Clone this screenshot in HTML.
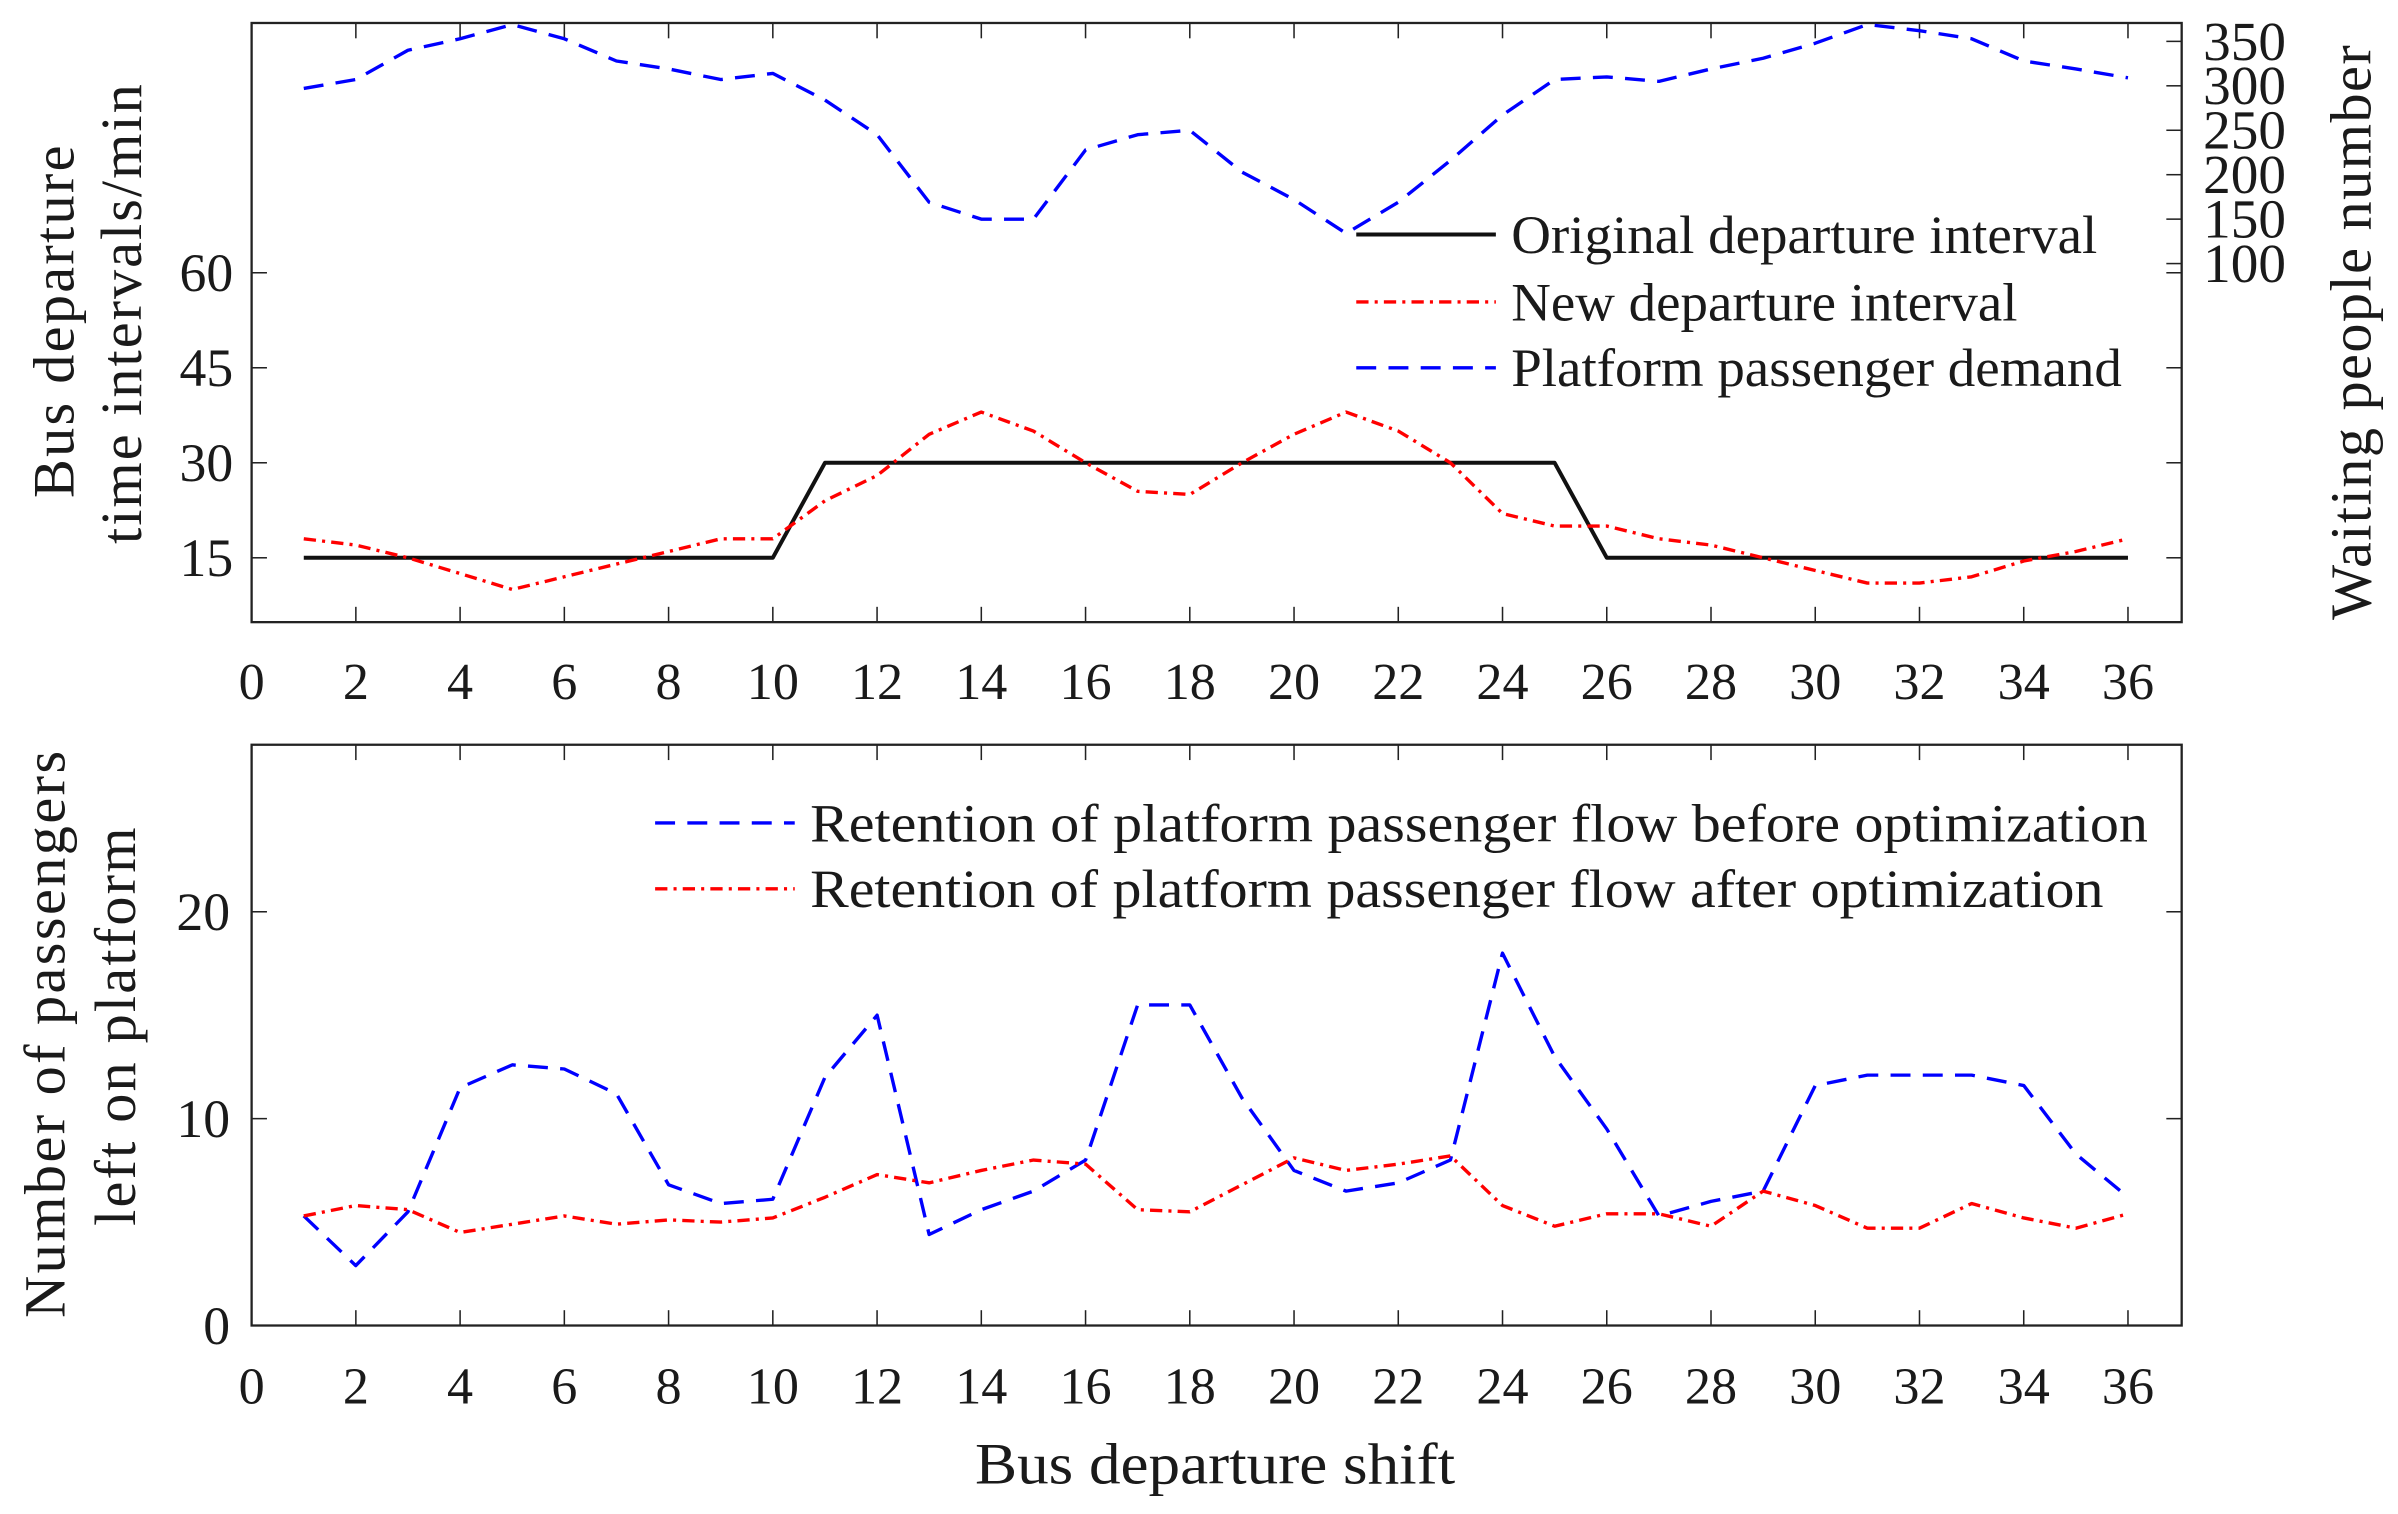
<!DOCTYPE html>
<html><head><meta charset="utf-8"><style>
html,body{margin:0;padding:0;background:#fff;}
svg{display:block;}
text{font-family:"Liberation Serif",serif;fill:#1a1a1a;}
</style></head><body>
<svg id="chart" width="2398" height="1514" viewBox="0 0 1563 988" preserveAspectRatio="none" xmlns="http://www.w3.org/2000/svg">
<g id="top"></g>
<g id="bot"></g>
</svg>
<script>
const shifts = Array.from({length:36},(_,i)=>i+1);
const xTicks = [0,2,4,6,8,10,12,14,16,18,20,22,24,26,28,30,32,34,36];
const leftTicks = [15,30,45,60];
const rightTicks = [100,150,200,250,300,350];
const bottomTicks = [0,10,20];
const originalInterval = [15,15,15,15,15,15,15,15,15,15,30,30,30,30,30,30,30,30,30,30,30,30,30,30,30,15,15,15,15,15,15,15,15,15,15,15];
const newInterval = [18,17,15,12.5,10,12,14,16,18,18,24,28,34.5,38,35,30,25.5,25,30,34.5,38,35,30,22,20,20,18,17,15,13,11,11,12,14.5,16,18];
const demand = [297,307,340,353,369,353,328,319,307,314,284,245,169,150,150,228,245,250,203,172,134,169,216,267,307,310,305,319,331,348,369,362,353,328,319,309];
const before = [5.3,2.9,5.5,11.5,12.6,12.4,11.2,6.8,5.9,6.1,12,15,4.4,5.6,6.5,8,15.5,15.5,11,7.5,6.5,6.9,8,18,13,9.5,5.3,6,6.5,11.6,12.1,12.1,12.1,11.6,8.3,6.2];
const after = [5.3,5.8,5.6,4.5,4.9,5.3,4.9,5.1,5,5.2,6.2,7.3,6.9,7.5,8,7.8,5.6,5.5,6.8,8.1,7.5,7.8,8.2,5.8,4.8,5.4,5.4,4.8,6.5,5.8,4.7,4.7,5.9,5.2,4.7,5.4];

const NS='http://www.w3.org/2000/svg';
function mk(p,tag,attrs,txt){const e=document.createElementNS(NS,tag);for(const k in attrs)e.setAttribute(k,attrs[k]);if(txt!==undefined)e.textContent=txt;p.appendChild(e);return e;}
const X0=164,X1=1422;
const xs=v=>164+v*(1387-164)/36;
const yL=v=>364-(v-15)*62/15;
const yR=v=>27+(350-v)*0.58;
const yB=v=>865-v*13.5;

function panel(g,top,bottom,labelY,prefix){
  const f=mk(g,'rect',{x:X0,y:top,width:X1-X0,height:bottom-top,fill:'none',stroke:'#222','stroke-width':1.5});
  
  
  xTicks.forEach(t=>{
    const x=xs(t);
    const a=mk(g,'line',{x1:x,x2:x,y1:bottom,y2:bottom-10,stroke:'#222','stroke-width':1});
    
    
    const b=mk(g,'line',{x1:x,x2:x,y1:top,y2:top+10,stroke:'#222','stroke-width':1});
    
    
    const l=mk(g,'text',{x:x,y:labelY,'font-size':34,'text-anchor':'middle'},String(t));
    
    
  });
}
function series(g,vals,xf,yf,style,name){
  const d=vals.map((v,i)=>(i?'L':'M')+xf(shifts[i]).toFixed(1)+','+yf(v).toFixed(1)).join(' ');
  const p=mk(g,'path',Object.assign({d:d,fill:'none','stroke-linejoin':'round'},style));
  
  
}
function legend(g,x1,x2,y,style,label,name,w){
  const l=mk(g,'line',Object.assign({x1:x1,x2:x2,y1:y,y2:y},style));
  
  
  const t=mk(g,'text',{x:x2+10,y:y+12,'font-size':35,textLength:w,lengthAdjust:'spacingAndGlyphs'},label);
  
  
}
function vtitle(g,cx,cy,len,label,name){
  const t=mk(g,'text',{x:0,y:0,'font-size':38,'text-anchor':'middle',textLength:len,lengthAdjust:'spacing',transform:'translate('+cx+','+cy+') rotate(-90)'},label);
  
  
}
const blueS={stroke:'#0000ff','stroke-width':2.2,'stroke-dasharray':'13,8'};
const redS={stroke:'#ff0000','stroke-width':2.2,'stroke-dasharray':'8,4,2,4'};
const blackS={stroke:'#111','stroke-width':2.6};

// top panel
const T=document.getElementById('top');
panel(T,15,406,456,'top');
leftTicks.forEach(v=>{
  const t=mk(T,'line',{x1:X0,x2:X0+10,y1:yL(v),y2:yL(v),stroke:'#222'});
  
  
  const t2=mk(T,'line',{x1:X1,x2:X1-10,y1:yL(v),y2:yL(v),stroke:'#222'});
  
  
  const l=mk(T,'text',{x:X0-12,y:yL(v)+12,'font-size':35,'text-anchor':'end'},String(v));
  
  
});
rightTicks.forEach(v=>{
  const t=mk(T,'line',{x1:X1,x2:X1-10,y1:yR(v),y2:yR(v),stroke:'#222'});
  
  
  const l=mk(T,'text',{x:X1+14,y:yR(v)+12,'font-size':36},String(v));
  
  
});
series(T,demand,xs,yR,blueS,'platform-demand-line');
series(T,originalInterval,xs,yL,blackS,'original-interval-line');
series(T,newInterval,xs,yL,redS,'new-interval-line');
legend(T,884,975,153,blackS,'Original departure interval','legend-original',382);
legend(T,884,975,197,redS,'New departure interval','legend-new',330);
legend(T,884,975,240,blueS,'Platform passenger demand','legend-demand',398);
vtitle(T,48,210,230,'Bus departure','left-y-axis-title-line1');
vtitle(T,92,205,300,'time intervals/min','left-y-axis-title-line2');
vtitle(T,1545,217,375,'Waiting people number','right-y-axis-title');

// bottom panel
const B=document.getElementById('bot');
panel(B,486,865,916,'bottom');
bottomTicks.forEach(v=>{
  const t=mk(B,'line',{x1:X0,x2:X0+10,y1:yB(v),y2:yB(v),stroke:'#222'});
  
  
  const t2=mk(B,'line',{x1:X1,x2:X1-10,y1:yB(v),y2:yB(v),stroke:'#222'});
  
  
  const l=mk(B,'text',{x:X0-14,y:yB(v)+12,'font-size':35,'text-anchor':'end'},String(v));
  
  
});
series(B,before,xs,yB,blueS,'retention-before-line');
series(B,after,xs,yB,redS,'retention-after-line');
legend(B,427,518,537,blueS,'Retention of platform passenger flow before optimization','legend-before',872);
legend(B,427,518,580,redS,'Retention of platform passenger flow after optimization','legend-after',843);
vtitle(B,42,675,370,'Number of passengers','bottom-y-axis-title-line1');
vtitle(B,88,670,260,'left on platform','bottom-y-axis-title-line2');
const xt=mk(B,'text',{x:792,y:968,'font-size':38,'text-anchor':'middle',textLength:313,lengthAdjust:'spacingAndGlyphs'},'Bus departure shift');


</script>
</body></html>
